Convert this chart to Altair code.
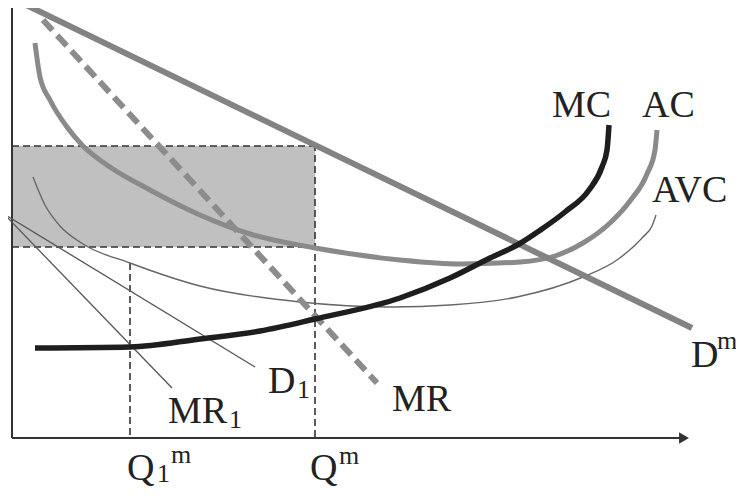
import altair as alt
import pandas as pd

# Economic coordinates: Q (quantity) to the right, P (price/cost) upward
ac_q = [23, 28, 38, 55, 71, 98, 138, 188, 238, 303, 388, 448, 508, 543, 571, 598, 618, 635, 643, 645]
ac_p = [394, 360, 337, 310, 291, 270, 247, 222, 203, 189, 177, 173, 175, 181, 194, 214, 236, 263, 287, 307]

avc_q = [21, 33, 48, 71, 118, 188, 288, 380, 438, 505, 571, 605, 631, 640, 644]
avc_p = [260, 232, 211, 193, 174, 151, 135, 130, 132, 140, 160, 177, 200, 211, 222]

mc_q = [23, 118, 188, 248, 303, 388, 438, 478, 507, 527, 553, 577, 590, 595, 597]
mc_p = [89, 90, 98, 106, 118, 139, 159, 179, 193, 206, 225, 247, 270, 287, 312]

dm_q = [8, 680]
dm_p = [435, 109]
mr_q = [31, 365]
mr_p = [417, 54]
d1_q = [-8, 243]
d1_p = [223, 70]
mr1_q = [-8, 160]
mr1_p = [223, 49]

q_m = 303
q1_m = 118
p_m = 291      # price on Dm at Q^m
ac_m = 190     # average cost at Q^m
mc_m1 = 175    # top of Q1^m guide

labels_big = ["MC", "AC", "AVC", "D", "MR", "D", "MR", "Q", "Q"]
labels_big_q = [540, 630, 640, 679, 380, 256, 156, 115, 298]
labels_big_p = [320, 320, 235, 70, 26, 44, 14, -43, -43]

labels_small = ["m", "1", "1", "1", "m", "m"]
labels_small_q = [705, 285, 217, 145, 159, 327]
labels_small_p = [88, 39, 9, -45, -26, -27]

xs = alt.Scale(domain=[-4, 724], nice=False, zero=False)
ys = alt.Scale(domain=[-51, 429], nice=False, zero=False)


def X(f="q"):
    return alt.X(f"{f}:Q", scale=xs, axis=None)


def Y(f="p"):
    return alt.Y(f"{f}:Q", scale=ys, axis=None)


def line_df(q, p):
    return pd.DataFrame({"q": q, "p": p})


rect = alt.Chart(pd.DataFrame({"q": [0], "q2": [q_m], "p": [ac_m], "p2": [p_m]})).mark_rect(
    fill="#b9b9b9", opacity=0.9
).encode(x=X(), x2="q2:Q", y=Y(), y2="p2:Q")

guides = pd.DataFrame({
    "q": [0, 0, q_m, q1_m],
    "q2": [q_m, q_m, q_m, q1_m],
    "p": [p_m, ac_m, 0, 2],
    "p2": [p_m, ac_m, p_m, mc_m1],
})
guide_rules = alt.Chart(guides).mark_rule(
    color="#333", strokeWidth=1.6, strokeDash=[7, 4]
).encode(x=X(), x2="q2:Q", y=Y(), y2="p2:Q")

axes = pd.DataFrame({"q": [0, 0], "q2": [0, 674], "p": [-1, -1], "p2": [437, -1]})
axis_rules = alt.Chart(axes).mark_rule(color="#333", strokeWidth=2).encode(
    x=X(), x2="q2:Q", y=Y(), y2="p2:Q"
)
arrow = alt.Chart(pd.DataFrame({"q": [672], "p": [-1]})).mark_point(
    shape="triangle-right", filled=True, color="#333", size=130, opacity=1
).encode(x=X(), y=Y())

dm = alt.Chart(line_df(dm_q, dm_p)).mark_line(color="#838383", strokeWidth=6).encode(x=X(), y=Y())
mr = alt.Chart(line_df(mr_q, mr_p)).mark_line(
    color="#8c8c8c", strokeWidth=6, strokeDash=[14, 7]
).encode(x=X(), y=Y())
d1 = alt.Chart(line_df(d1_q, d1_p)).mark_line(color="#555", strokeWidth=1.3).encode(x=X(), y=Y())
mr1 = alt.Chart(line_df(mr1_q, mr1_p)).mark_line(color="#555", strokeWidth=1.3).encode(x=X(), y=Y())
ac = alt.Chart(line_df(ac_q, ac_p)).mark_line(
    color="#8a8a8a", strokeWidth=5, interpolate="monotone"
).encode(x=X(), y=Y())
avc = alt.Chart(line_df(avc_q, avc_p)).mark_line(
    color="#666", strokeWidth=1.4, interpolate="monotone"
).encode(x=X(), y=Y())
mc = alt.Chart(line_df(mc_q, mc_p)).mark_line(
    color="#1e1e1e", strokeWidth=5.5, interpolate="monotone"
).encode(x=X(), y=Y())

big = alt.Chart(pd.DataFrame({"q": labels_big_q, "p": labels_big_p, "t": labels_big})).mark_text(
    font="Liberation Serif", fontSize=38, align="left", baseline="alphabetic", color="#222"
).encode(x=X(), y=Y(), text="t:N")
small = alt.Chart(pd.DataFrame({"q": labels_small_q, "p": labels_small_p, "t": labels_small})).mark_text(
    font="Liberation Serif", fontSize=26, align="left", baseline="alphabetic", color="#222"
).encode(x=X(), y=Y(), text="t:N")

chart = alt.layer(
    rect, guide_rules, axis_rules, arrow, d1, mr1, avc, ac, dm, mr, mc, big, small
).properties(
    width=728, height=480, padding=0,
    autosize=alt.AutoSizeParams(type="none"),
).configure_view(stroke=None)

chart.save("out.html", embed_options={"renderer": "svg", "actions": False})
